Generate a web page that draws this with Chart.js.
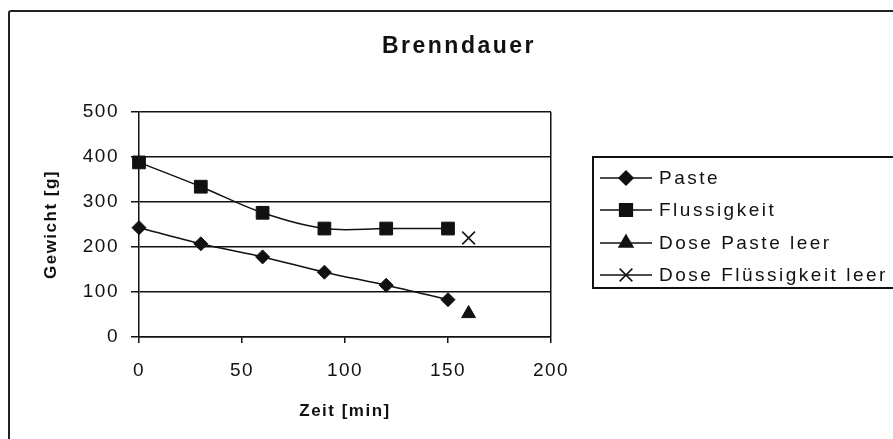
<!DOCTYPE html>
<html>
<head>
<meta charset="utf-8">
<script src="https://cdn.jsdelivr.net/npm/chart.js@4.4.1/dist/chart.umd.min.js"></script>
<style>
    html, body { margin: 0; padding: 0; background: #fff; overflow: hidden; }
    #wrap { position: relative; width: 893px; height: 439px; }
    #frame { position: absolute; left: 8px; top: 10px; width: 1000px; height: 1000px; border: 2px solid #222; border-radius: 3px; }
    canvas { position: absolute; left: 0; top: 0; }
</style>
</head>
<body>
<div id="wrap">
    <div id="frame"></div>
    <canvas id="brennChart" width="893" height="439"></canvas>
</div>
<script>
    // Werte
    const zeit = [0, 30, 60, 90, 120, 150];
    const paste = [243, 207, 178, 144, 115, 83];
    const flussigkeit = [388, 334, 276, 241, 241, 241];
    const dosePasteZeit = [160];
    const dosePaste = [52];
    const doseFlussigZeit = [160];
    const doseFlussig = [220];
    const xTicks = [0, 50, 100, 150, 200];
    const yTicks = [0, 100, 200, 300, 400, 500];
    const labels = ['Paste', 'Flussigkeit', 'Dose Paste leer', 'Dose Flüssigkeit leer'];

    const ink = '#111';
    const fontFamily = '"Liberation Sans", Arial, sans-serif';

    function toPoints(xs, ys) {
        return xs.map((x, i) => ({ x: x, y: ys[i] }));
    }

    // Buchstabenabstand wie im Scan
    const spacingPlugin = {
        id: 'spacing',
        beforeLayout(chart) { chart.ctx.letterSpacing = '1.5px'; },
        beforeDraw(chart) { chart.ctx.letterSpacing = '1.5px'; }
    };

    // Titel + Legende selbst zeichnen (Excel-Stil)
    const decorPlugin = {
        id: 'decor',
        afterDraw(chart) {
            const ctx = chart.ctx;
            ctx.save();
            ctx.fillStyle = ink;
            ctx.letterSpacing = '2.5px';
            ctx.font = 'bold 23px ' + fontFamily;
            ctx.textAlign = 'center';
            ctx.textBaseline = 'middle';
            ctx.fillText('Brenndauer', 459, 47);

            // Legende
            ctx.strokeStyle = ink;
            ctx.lineWidth = 2;
            ctx.strokeRect(593, 157, 400, 131);
            const rows = [178, 210, 243, 275];
            ctx.font = '19px ' + fontFamily;
            ctx.letterSpacing = '2.5px';
            ctx.textAlign = 'left';
            chart.data.datasets.forEach((ds, i) => {
                const y = rows[i];
                ctx.strokeStyle = ink;
                ctx.lineWidth = 1.5;
                ctx.beginPath();
                ctx.moveTo(600, y);
                ctx.lineTo(652, y);
                ctx.stroke();
                ctx.fillStyle = ink;
                Chart.helpers.drawPoint(ctx, {
                    pointStyle: ds.pointStyle,
                    radius: ds.pointRadius,
                    rotation: 0,
                    borderWidth: ds.pointBorderWidth
                }, 626, y);
                ctx.fillStyle = ink;
                ctx.fillText(ds.label, 659, y + 1);
            });
            ctx.restore();
        }
    };

    const ctx = document.getElementById('brennChart');
    const brennChart = new Chart(ctx, {
        type: 'line',
        data: {
            datasets: [
                {
                    label: labels[0],
                    data: toPoints(zeit, paste),
                    borderColor: ink,
                    borderWidth: 1.5,
                    backgroundColor: ink,
                    pointStyle: 'rectRot',
                    pointRadius: 7,
                    pointBorderWidth: 1,
                    pointBackgroundColor: ink,
                    pointBorderColor: ink,
                    tension: 0.3,
                    clip: false
                },
                {
                    label: labels[1],
                    data: toPoints(zeit, flussigkeit),
                    borderColor: ink,
                    borderWidth: 1.5,
                    backgroundColor: ink,
                    pointStyle: 'rect',
                    pointRadius: 9,
                    pointBorderWidth: 1,
                    pointBackgroundColor: ink,
                    pointBorderColor: ink,
                    tension: 0.35,
                    clip: false
                },
                {
                    label: labels[2],
                    data: toPoints(dosePasteZeit, dosePaste),
                    borderColor: ink,
                    borderWidth: 1.5,
                    backgroundColor: ink,
                    pointStyle: 'triangle',
                    pointRadius: 8,
                    pointBorderWidth: 1,
                    pointBackgroundColor: ink,
                    pointBorderColor: ink,
                    clip: false
                },
                {
                    label: labels[3],
                    data: toPoints(doseFlussigZeit, doseFlussig),
                    borderColor: ink,
                    borderWidth: 1.5,
                    backgroundColor: ink,
                    pointStyle: 'crossRot',
                    pointRadius: 9,
                    pointBorderWidth: 1.5,
                    pointBackgroundColor: ink,
                    pointBorderColor: ink,
                    clip: false
                }
            ]
        },
        options: {
            responsive: false,
            animation: false,
            layout: {
                padding: { top: 112, right: 342, bottom: 0, left: 0 }
            },
            plugins: {
                legend: { display: false },
                title: { display: false },
                tooltip: { enabled: false }
            },
            scales: {
                x: {
                    type: 'linear',
                    min: 0,
                    max: 200,
                    afterFit: function (scale) { scale.height = 102; },
                    afterBuildTicks: function (scale) { scale.ticks = xTicks.map(v => ({ value: v })); },
                    ticks: {
                        color: ink,
                        padding: 16,
                        font: { size: 19, family: fontFamily }
                    },
                    grid: {
                        drawOnChartArea: true,
                        color: c => (c.tick && c.tick.value === 200) ? ink : 'rgba(0,0,0,0)',
                        lineWidth: 1.5,
                        tickColor: ink,
                        tickLength: 6
                    },
                    border: { display: true, color: ink, width: 1.5 },
                    title: {
                        display: true,
                        text: 'Zeit [min]',
                        color: ink,
                        font: { size: 17, weight: 'bold', family: fontFamily },
                        padding: { top: 0, bottom: 17 }
                    }
                },
                y: {
                    type: 'linear',
                    min: 0,
                    max: 500,
                    afterFit: function (scale) { scale.width = 139; },
                    afterBuildTicks: function (scale) { scale.ticks = yTicks.map(v => ({ value: v })); },
                    ticks: {
                        color: ink,
                        padding: 12,
                        font: { size: 19, family: fontFamily }
                    },
                    grid: {
                        color: ink,
                        lineWidth: 1.5,
                        tickColor: ink,
                        tickLength: 8
                    },
                    border: { display: true, color: ink, width: 1.5 },
                    title: {
                        display: true,
                        text: 'Gewicht [g]',
                        color: ink,
                        font: { size: 17, weight: 'bold', family: fontFamily },
                        padding: { top: 41, bottom: 0 }
                    }
                }
            }
        },
        plugins: [spacingPlugin, decorPlugin]
    });
</script>
</body>
</html>
